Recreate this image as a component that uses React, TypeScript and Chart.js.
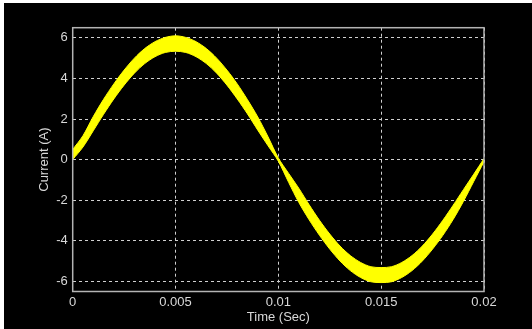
import React, { useEffect, useRef } from 'react';
import { Chart, registerables } from 'chart.js';

Chart.register(...registerables);

// Sample times (s)
const times = [
  0, 0.0005, 0.001, 0.0015, 0.002, 0.0025, 0.003, 0.0035, 0.004, 0.0045,
  0.005, 0.0055, 0.006, 0.0065, 0.007, 0.0075, 0.008, 0.0085, 0.009, 0.0095,
  0.01, 0.0105, 0.011, 0.0115, 0.012, 0.0125, 0.013, 0.0135, 0.014, 0.0145,
  0.015, 0.0155, 0.016, 0.0165, 0.017, 0.0175, 0.018, 0.0185, 0.019, 0.0195,
  0.02,
];

// Upper edge of the rippled current band (A)
const upperEnvelope = [
  0.5, 1.18, 2.12, 2.97, 3.73, 4.41, 5.0, 5.47, 5.81, 6.02,
  6.1, 6.02, 5.81, 5.47, 5.0, 4.41, 3.73, 2.95, 2.1, 1.12,
  0.08, -0.68, -1.42, -2.23, -2.99, -3.67, -4.26, -4.73, -5.07, -5.28,
  -5.32, -5.28, -5.07, -4.73, -4.26, -3.67, -2.99, -2.25, -1.48, -0.72,
  0.05,
];

// Lower edge of the rippled current band (A)
const lowerEnvelope = [
  0.0, 0.62, 1.42, 2.23, 2.99, 3.67, 4.26, 4.73, 5.07, 5.28,
  5.34, 5.28, 5.07, 4.73, 4.26, 3.67, 2.99, 2.25, 1.45, 0.68,
  -0.08, -1.12, -2.12, -2.97, -3.73, -4.41, -5.0, -5.47, -5.81, -6.02,
  -6.06, -6.02, -5.81, -5.47, -5.0, -4.41, -3.73, -2.95, -2.06, -1.08,
  -0.1,
];

const xTicks = [0, 0.005, 0.01, 0.015, 0.02];
const xTickLabels = ['0', '0.005', '0.01', '0.015', '0.02'];
const yTicks = [-6, -4, -2, 0, 2, 4, 6];
const yTickLabels = ['-6', '-4', '-2', '0', '2', '4', '6'];

const YELLOW = '#ffff00';
const TEXT = '#d8d8d8';
const GRID = '#d0d0d0';
const FONT = { family: '"Liberation Sans", Arial, Helvetica, sans-serif', size: 13 };

const framePlugin = {
  id: 'frame',
  afterDatasetsDraw(chart: any) {
    const { ctx, chartArea: a } = chart;
    ctx.save();
    ctx.strokeStyle = '#b4b4b4';
    ctx.lineWidth = 1.5;
    ctx.setLineDash([]);
    ctx.strokeRect(a.left, a.top, a.right - a.left, a.bottom - a.top);
    ctx.restore();
  },
};

export default function App() {
  const ref = useRef<HTMLCanvasElement>(null);

  useEffect(() => {
    document.body.style.margin = '0';
    document.body.style.background = '#ffffff';
    const canvas = ref.current;
    if (!canvas) return;

    const chart = new Chart(canvas, {
      type: 'line',
      data: {
        datasets: [
          {
            data: times.map((t, i) => ({ x: t, y: upperEnvelope[i] })),
            borderColor: YELLOW,
            backgroundColor: YELLOW,
            borderWidth: 1,
            pointRadius: 0,
            tension: 0.3,
            fill: '+1',
          },
          {
            data: times.map((t, i) => ({ x: t, y: lowerEnvelope[i] })),
            borderColor: YELLOW,
            backgroundColor: YELLOW,
            borderWidth: 1,
            pointRadius: 0,
            tension: 0.3,
            fill: false,
          },
        ],
      },
      options: {
        animation: false,
        responsive: false,
        maintainAspectRatio: false,
        layout: { padding: { left: 0, top: 24.7, right: 48, bottom: 0 } },
        plugins: {
          legend: { display: false },
          tooltip: { enabled: false },
        },
        scales: {
          x: {
            type: 'linear',
            min: 0,
            max: 0.02,
            afterBuildTicks: (s: any) => {
              s.ticks = xTicks.map((v) => ({ value: v }));
            },
            afterFit: (s: any) => {
              s.height = 37.5;
            },
            ticks: {
              color: TEXT,
              font: FONT,
              padding: 3,
              maxRotation: 0,
              autoSkip: false,
              callback: (v: any) => {
                const i = xTicks.indexOf(Number(v));
                return i >= 0 ? xTickLabels[i] : '';
              },
            },
            grid: { color: GRID, lineWidth: 1, drawTicks: false },
            border: { display: false, dash: [3, 3] },
            title: {
              display: true,
              text: 'Time (Sec)',
              color: TEXT,
              font: FONT,
              padding: { top: 0, bottom: 4 },
            },
          },
          y: {
            type: 'linear',
            min: -6.5,
            max: 6.5,
            afterBuildTicks: (s: any) => {
              s.ticks = yTicks.map((v) => ({ value: v }));
            },
            afterFit: (s: any) => {
              s.width = 68.7;
            },
            ticks: {
              color: TEXT,
              font: FONT,
              padding: 5,
              callback: (v: any) => {
                const i = yTicks.indexOf(Number(v));
                return i >= 0 ? yTickLabels[i] : '';
              },
            },
            grid: { color: GRID, lineWidth: 1, drawTicks: false },
            border: { display: false, dash: [3, 3] },
            title: {
              display: true,
              text: 'Current (A)',
              color: TEXT,
              font: FONT,
              padding: { top: 33, bottom: 0 },
            },
          },
        },
      },
      plugins: [framePlugin],
    } as any);

    return () => chart.destroy();
  }, []);

  return (
    <div
      style={{
        position: 'absolute',
        left: 4,
        top: 3,
        width: 528,
        height: 326,
        background: '#000000',
      }}
    >
      <canvas ref={ref} width={528} height={326} style={{ display: 'block' }} />
    </div>
  );
}
